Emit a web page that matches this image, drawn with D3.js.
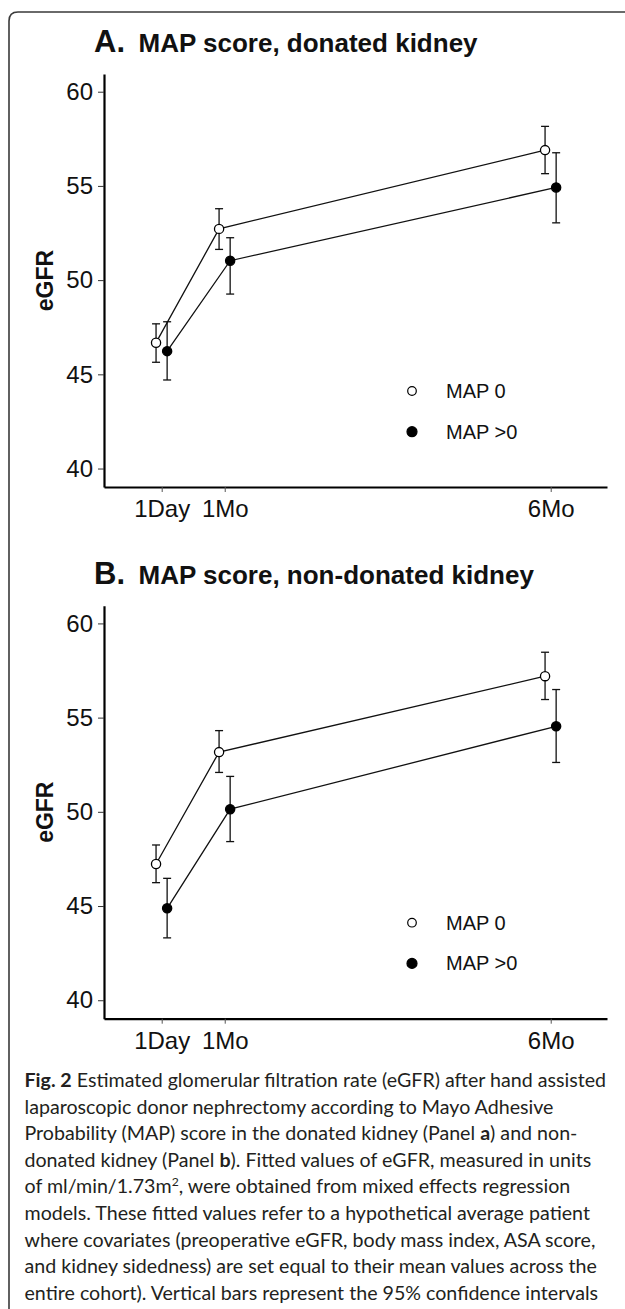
<!DOCTYPE html>
<html>
<head>
<meta charset="utf-8">
<script src="https://cdn.jsdelivr.net/npm/d3@7"></script>
<style>
  html, body { margin: 0; padding: 0; background: #fff; }
  svg { display: block; }
</style>
</head>
<body>
<svg id="chart" width="625" height="1309"></svg>
<script>
// ---------- data ----------
const timeDays = [1, 30, 180];
const timeLabels = ["1Day", "1Mo", "6Mo"];
const yTicks = [40, 45, 50, 55, 60];
const seriesNames = ["MAP 0", "MAP >0"];
const panelLetters = ["A.", "B."];
const panelTitles = ["MAP score, donated kidney", "MAP score, non-donated kidney"];
const yLabel = "eGFR";

// Panel A (donated kidney)
const aMap0    = [46.68, 52.72, 56.90];
const aMap0Lo  = [45.64, 51.63, 55.65];
const aMap0Hi  = [47.68, 53.79, 58.16];
const aMapPos   = [46.23, 51.03, 54.92];
const aMapPosLo = [44.70, 49.26, 53.04];
const aMapPosHi = [47.79, 52.25, 56.76];

// Panel B (non-donated kidney)
const bMap0    = [47.23, 53.17, 57.20];
const bMap0Lo  = [46.24, 52.09, 55.96];
const bMap0Hi  = [48.24, 54.31, 58.47];
const bMapPos   = [44.88, 50.14, 54.54];
const bMapPosLo = [43.31, 48.42, 52.62];
const bMapPosHi = [46.47, 51.88, 56.49];

const captionLines = [
  [["Fig. 2", true], [" Estimated glomerular filtration rate (eGFR) after hand assisted", false]],
  [["laparoscopic donor nephrectomy according to Mayo Adhesive", false]],
  [["Probability (MAP) score in the donated kidney (Panel ", false], ["a", true], [") and non-", false]],
  [["donated kidney (Panel ", false], ["b", true], ["). Fitted values of eGFR, measured in units", false]],
  [["of ml/min/1.73m", false], ["2", false, "sup"], [", were obtained from mixed effects regression", false]],
  [["models. These fitted values refer to a hypothetical average patient", false]],
  [["where covariates (preoperative eGFR, body mass index, ASA score,", false]],
  [["and kidney sidedness) are set equal to their mean values across the", false]],
  [["entire cohort). Vertical bars represent the 95% confidence intervals", false]]
];

const panels = [
  { letter: panelLetters[0], title: panelTitles[0],
    series: [
      { name: seriesNames[0], v: aMap0, lo: aMap0Lo, hi: aMap0Hi, filled: false, dodge: -2.6 },
      { name: seriesNames[1], v: aMapPos, lo: aMapPosLo, hi: aMapPosHi, filled: true, dodge: 2.5 }
    ] },
  { letter: panelLetters[1], title: panelTitles[1],
    series: [
      { name: seriesNames[0], v: bMap0, lo: bMap0Lo, hi: bMap0Hi, filled: false, dodge: -2.6 },
      { name: seriesNames[1], v: bMapPos, lo: bMapPosLo, hi: bMapPosHi, filled: true, dodge: 2.5 }
    ] }
];

// ---------- layout ----------
const svg = d3.select("#chart");
svg.append("rect").attr("width", 625).attr("height", 1309).attr("fill", "#fff");

// frame with rounded top-left corner
svg.append("path")
  .attr("d", "M9,1312 L9,21 Q9,12 18,12 L628,12")
  .attr("fill", "none").attr("stroke", "#3a3a3a").attr("stroke-width", 1.6);

const FONT = "'Liberation Sans', Arial, Helvetica, sans-serif";
const panelOffset = 531.7;
const plotLeft = 104, plotRight = 607, plotTop0 = 74, plotBottom0 = 487;

const x = d3.scaleLinear().domain([-25.55, 205.9]).range([plotLeft, plotRight]);

panels.forEach((p, i) => {
  const off = i * panelOffset;
  const g = svg.append("g").attr("transform", `translate(0,${off})`);
  const y = d3.scaleLinear().domain([39.02, 60.94]).range([plotBottom0, plotTop0]);

  // title
  g.append("text").attr("x", 94).attr("y", 52)
    .attr("font-family", FONT).attr("font-weight", "bold").attr("font-size", 31)
    .attr("fill", "#111").text(p.letter);
  g.append("text").attr("x", 138.5).attr("y", 52)
    .attr("font-family", FONT).attr("font-weight", "bold").attr("font-size", 26)
    .attr("fill", "#111").text(p.title);

  // y axis
  const yAxis = d3.axisLeft(y).tickValues(yTicks).tickSize(6).tickPadding(5).tickSizeOuter(0);
  const ya = g.append("g").attr("transform", `translate(${plotLeft},0)`).call(yAxis);
  ya.select(".domain").attr("stroke", "#000").attr("stroke-width", 2.2);
  ya.selectAll(".tick line").attr("stroke", "#333").attr("stroke-width", 1);
  ya.selectAll(".tick text").attr("font-family", FONT).attr("font-size", 24).attr("fill", "#111");

  // x axis
  const xAxis = d3.axisBottom(x).tickValues(timeDays).tickFormat((d, j) => timeLabels[j])
    .tickSize(5).tickPadding(8).tickSizeOuter(0);
  const xa = g.append("g").attr("transform", `translate(0,${plotBottom0})`).call(xAxis);
  xa.select(".domain").attr("stroke", "#000").attr("stroke-width", 2.2);
  xa.selectAll(".tick line").attr("stroke", "#555").attr("stroke-width", 1);
  xa.selectAll(".tick text").attr("font-family", FONT).attr("font-size", 24).attr("fill", "#111");

  // y label
  g.append("text")
    .attr("transform", `translate(53,${(plotTop0 + plotBottom0) / 2}) rotate(-90)`)
    .attr("text-anchor", "middle")
    .attr("font-family", FONT).attr("font-weight", "bold").attr("font-size", 23)
    .attr("fill", "#111").text(yLabel);

  // series
  p.series.forEach(s => {
    const pts = timeDays.map((t, j) => ({ t: t + s.dodge, v: s.v[j], lo: s.lo[j], hi: s.hi[j] }));
    const eb = g.append("g").attr("stroke", "#111").attr("stroke-width", 1.3);
    pts.forEach(d => {
      const cx = x(d.t);
      eb.append("line").attr("x1", cx).attr("x2", cx).attr("y1", y(d.lo)).attr("y2", y(d.hi));
      eb.append("line").attr("x1", cx - 4).attr("x2", cx + 4).attr("y1", y(d.lo)).attr("y2", y(d.lo));
      eb.append("line").attr("x1", cx - 4).attr("x2", cx + 4).attr("y1", y(d.hi)).attr("y2", y(d.hi));
    });
    g.append("path").datum(pts)
      .attr("d", d3.line().x(d => x(d.t)).y(d => y(d.v)))
      .attr("fill", "none").attr("stroke", "#111").attr("stroke-width", 1.3);
  });
  p.series.forEach(s => {
    const pts = timeDays.map((t, j) => ({ t: t + s.dodge, v: s.v[j] }));
    g.selectAll(null).data(pts).enter().append("circle")
      .attr("cx", d => x(d.t)).attr("cy", d => y(d.v)).attr("r", 4.6)
      .attr("fill", s.filled ? "#000" : "#fff").attr("stroke", "#000").attr("stroke-width", 1.3);
  });

  // legend
  const lg = g.append("g");
  p.series.forEach((s, j) => {
    const cy = 391 + j * 40.7;
    lg.append("circle").attr("cx", 412).attr("cy", cy).attr("r", s.filled ? 5 : 4.3)
      .attr("fill", s.filled ? "#000" : "#fff").attr("stroke", "#000").attr("stroke-width", 1.2);
    lg.append("text").attr("x", 446).attr("y", cy + 7)
      .attr("font-family", FONT).attr("font-size", 20).attr("fill", "#111").text(s.name);
  });
});

// ---------- caption ----------
const CAP_FONT = "Lato, 'Open Sans', 'Noto Sans', sans-serif";
const capG = svg.append("g").attr("font-family", CAP_FONT).attr("fill", "#231f20");
function drawCaption(size) {
  capG.selectAll("*").remove();
  captionLines.forEach((parts, i) => {
    const t = capG.append("text").attr("x", 24.5).attr("y", 1087 + i * 26.6).attr("font-size", size);
    parts.forEach((pt, k) => {
      const ts = t.append("tspan").text(pt[0]);
      if (pt[1]) ts.attr("font-weight", "bold");
      if (pt[2] === "sup") ts.attr("font-size", size * 0.62).attr("dy", -7);
      else if (k > 0 && parts[k - 1][2] === "sup") ts.attr("dy", 7);
    });
  });
}
drawCaption(18);
const firstW = capG.select("text").node().getComputedTextLength();
let capSize = 18 * 582 / firstW;
capSize = Math.max(15, Math.min(20, capSize));
drawCaption(capSize);
</script>
</body>
</html>
